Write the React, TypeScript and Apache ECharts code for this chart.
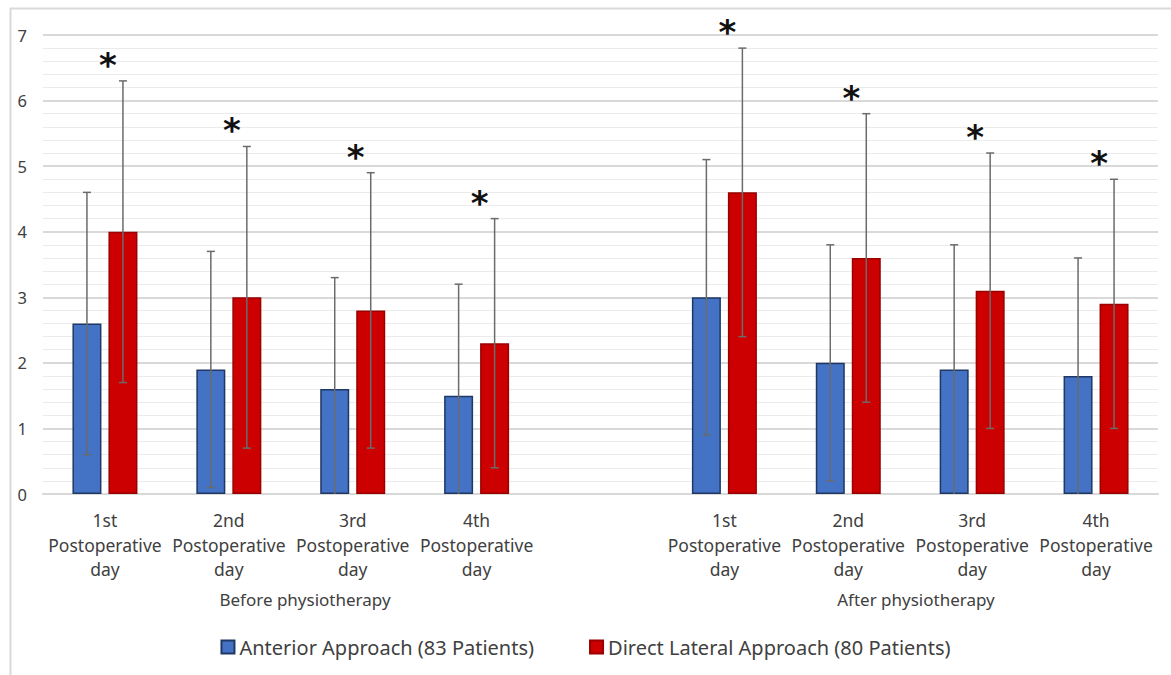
import React, { useEffect, useRef } from "react";
import * as echarts from "echarts";

const categories = [
  "1st\nPostoperative\nday",
  "2nd\nPostoperative\nday",
  "3rd\nPostoperative\nday",
  "4th\nPostoperative\nday",
  "",
  "1st\nPostoperative\nday",
  "2nd\nPostoperative\nday",
  "3rd\nPostoperative\nday",
  "4th\nPostoperative\nday",
];
const groupLabels = ["Before physiotherapy", "After physiotherapy"];
const seriesNames = ["Anterior Approach (83 Patients)", "Direct Lateral Approach (80 Patients)"];

const anteriorMean = [2.6, 1.9, 1.6, 1.5, null, 3.0, 2.0, 1.9, 1.8];
const anteriorSD = [2.0, 1.8, 1.7, 1.7, null, 2.1, 1.8, 1.9, 1.8];
const lateralMean = [4.0, 3.0, 2.8, 2.3, null, 4.6, 3.6, 3.1, 2.9];
const lateralSD = [2.3, 2.3, 2.1, 1.9, null, 2.2, 2.2, 2.1, 1.9];
const significant = [true, true, true, true, false, true, true, true, true];

const BAR_W = 29;
const BAR_GAP = 7;

function errorData(mean: (number | null)[], sd: (number | null)[]) {
  return mean.map((m, i) =>
    m == null || sd[i] == null ? [i, "-", "-", "-"] : [i, m, m - (sd[i] as number), m + (sd[i] as number)]
  );
}

function makeErrorRender(offsetSign: number, withStar: boolean) {
  return (params: any, api: any) => {
    const idx = api.value(0);
    const lowV = api.value(2);
    const highV = api.value(3);
    if (isNaN(lowV) || isNaN(highV)) return null;
    const center = api.coord([idx, 0]);
    const x = center[0] + offsetSign * (BAR_W + BAR_GAP) / 2;
    const lowClamped = Math.max(0, lowV);
    const yLow = api.coord([idx, lowClamped])[1];
    const yHigh = api.coord([idx, highV])[1];
    const stroke = { stroke: "#6b6b6b", lineWidth: 1.5 };
    const children: any[] = [
      { type: "line", shape: { x1: x, y1: yHigh, x2: x, y2: yLow }, style: stroke },
      { type: "line", shape: { x1: x - 4, y1: yHigh, x2: x + 4, y2: yHigh }, style: stroke },
    ];
    if (lowV > 0) {
      children.push({ type: "line", shape: { x1: x - 4, y1: yLow, x2: x + 4, y2: yLow }, style: stroke });
    }
    if (withStar && significant[idx]) {
      children.push({
        type: "text",
        x: center[0] + 3,
        y: yHigh - 16,
        style: {
          text: "*",
          fontSize: 34,
          fontWeight: "bold",
          fontFamily: "DejaVu Sans",
          fill: "#111",
          align: "center",
          verticalAlign: "middle",
        },
      });
    }
    return { type: "group", children };
  };
}

export default function App() {
  const ref = useRef<HTMLDivElement>(null);
  useEffect(() => {
    if (!ref.current) return;
    const chart = echarts.init(ref.current, null, { renderer: "svg" });
    const font = "Noto Sans";
    chart.setOption({
      animation: false,
      backgroundColor: "#ffffff",
      textStyle: { fontFamily: font },
      grid: { left: 43, right: 13, top: 35, bottom: 181, containLabel: false },
      graphic: [
        {
          type: "rect",
          left: 8,
          top: 6,
          shape: { width: 1175, height: 700 },
          style: { fill: "none", stroke: "#d9d9d9", lineWidth: 2 },
          silent: true,
        },
        {
          type: "text",
          x: 305,
          y: 599,
          style: { text: groupLabels[0], fontSize: 17, fontFamily: font, fill: "#404040", align: "center", verticalAlign: "middle" },
        },
        {
          type: "text",
          x: 916,
          y: 599,
          style: { text: groupLabels[1], fontSize: 17, fontFamily: font, fill: "#404040", align: "center", verticalAlign: "middle" },
        },
      ],
      legend: {
        bottom: 13,
        left: "center",
        itemWidth: 13,
        itemHeight: 13,
        itemGap: 55,
        icon: "rect",
        textStyle: { fontSize: 20, color: "#404040", fontFamily: font },
        data: seriesNames,
      },
      xAxis: {
        type: "category",
        data: categories,
        axisTick: { show: false },
        axisLine: { lineStyle: { color: "#d9d9d9", width: 2 } },
        axisLabel: {
          interval: 0,
          fontSize: 17.5,
          lineHeight: 24.5,
          color: "#404040",
          margin: 14,
          fontFamily: font,
        },
      },
      yAxis: {
        type: "value",
        min: 0,
        max: 7,
        interval: 1,
        axisLine: { show: false },
        axisTick: { show: false },
        axisLabel: { fontSize: 16.5, color: "#404040", margin: 16, fontFamily: font },
        splitLine: { lineStyle: { color: "#d9d9d9", width: 2 } },
        minorTick: { show: false, splitNumber: 5 },
        minorSplitLine: { show: true, lineStyle: { color: "#ebebeb", width: 1 } },
      },
      series: [
        {
          name: seriesNames[0],
          type: "bar",
          data: anteriorMean.map((v) => (v == null ? "-" : v)),
          barWidth: BAR_W,
          barGap: (BAR_GAP / BAR_W) * 100 + "%",
          itemStyle: { color: "#4472C4", borderColor: "#1F3864", borderWidth: 1.5 },
        },
        {
          name: seriesNames[1],
          type: "bar",
          data: lateralMean.map((v) => (v == null ? "-" : v)),
          barWidth: BAR_W,
          barGap: (BAR_GAP / BAR_W) * 100 + "%",
          itemStyle: { color: "#CC0000", borderColor: "#9A0000", borderWidth: 1.5 },
        },
        {
          type: "custom",
          renderItem: makeErrorRender(-1, false),
          data: errorData(anteriorMean, anteriorSD),
          encode: { x: 0, y: [2, 3] },
          z: 10,
          silent: true,
        },
        {
          type: "custom",
          renderItem: makeErrorRender(1, true),
          data: errorData(lateralMean, lateralSD),
          encode: { x: 0, y: [2, 3] },
          z: 10,
          silent: true,
          clip: false,
        },
      ],
    });
    return () => chart.dispose();
  }, []);
  return <div ref={ref} style={{ position: "fixed", left: 0, top: 0, width: 1171, height: 675 }} />;
}
